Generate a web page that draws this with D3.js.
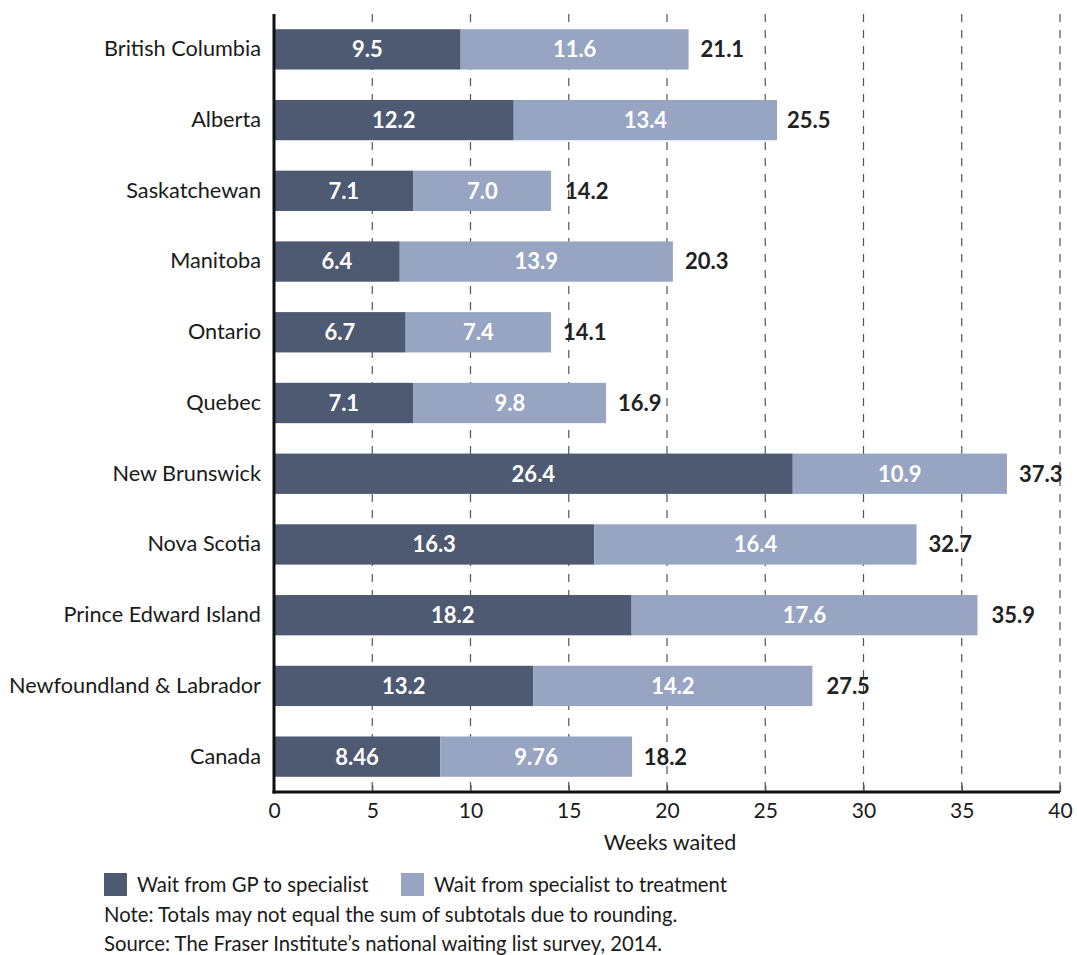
<!DOCTYPE html>
<html>
<head>
<meta charset="utf-8">
<script src="https://cdn.jsdelivr.net/npm/d3@7/dist/d3.min.js"></script>
<style>
  html, body { margin: 0; padding: 0; background: #fff; }
  svg { display: block; font-family: Lato, "Open Sans", sans-serif; }
</style>
</head>
<body>
<svg id="chart" width="1077" height="955"></svg>
<script>
// Wait times by province (weeks)
const provinces = ["British Columbia", "Alberta", "Saskatchewan", "Manitoba", "Ontario", "Quebec",
  "New Brunswick", "Nova Scotia", "Prince Edward Island", "Newfoundland & Labrador", "Canada"];
const gpToSpecialist = [9.5, 12.2, 7.1, 6.4, 6.7, 7.1, 26.4, 16.3, 18.2, 13.2, 8.46];
const specialistToTreatment = [11.6, 13.4, 7.0, 13.9, 7.4, 9.8, 10.9, 16.4, 17.6, 14.2, 9.76];
const totals = [21.1, 25.5, 14.2, 20.3, 14.1, 16.9, 37.3, 32.7, 35.9, 27.5, 18.2];
const xTicks = [0, 5, 10, 15, 20, 25, 30, 35, 40];
const seriesNames = ["Wait from GP to specialist", "Wait from specialist to treatment"];
const colors = ["#4e5a71", "#97a5c3"];

const svg = d3.select("#chart");
const plotLeft = 274, plotRight = 1060, plotTop = 14, plotBottom = 792;
const textColor = "#1a1a1a";

const x = d3.scaleLinear().domain([0, 40]).range([plotLeft, plotRight]);
const y = d3.scaleBand().domain(provinces).range([plotTop, plotBottom]).paddingInner(0.43).paddingOuter(0.215);

// dashed vertical gridlines
svg.append("g").selectAll("line").data(xTicks.slice(1)).join("line")
  .attr("x1", d => x(d)).attr("x2", d => x(d))
  .attr("y1", plotTop).attr("y2", plotBottom)
  .attr("stroke", "#555").attr("stroke-width", 1.2)
  .attr("stroke-dasharray", "8,8");

const rows = provinces.map((p, i) => ({
  name: p, a: gpToSpecialist[i], b: specialistToTreatment[i], total: totals[i]
}));

const g = svg.append("g");
// first segment
g.selectAll("rect.a").data(rows).join("rect").attr("class", "a")
  .attr("x", x(0)).attr("y", d => y(d.name))
  .attr("width", d => x(d.a) - x(0)).attr("height", y.bandwidth())
  .attr("fill", colors[0]);
// second segment
g.selectAll("rect.b").data(rows).join("rect").attr("class", "b")
  .attr("x", d => x(d.a)).attr("y", d => y(d.name))
  .attr("width", d => x(d.a + d.b) - x(d.a)).attr("height", y.bandwidth())
  .attr("fill", colors[1]);

const fmt = v => (Math.round(v * 100) % 10 !== 0) ? v.toFixed(2) : v.toFixed(1);
const boldSize = 22;

// segment labels
g.selectAll("text.a").data(rows).join("text").attr("class", "a")
  .attr("x", d => (x(0) + x(d.a)) / 2).attr("y", d => y(d.name) + y.bandwidth() / 2)
  .attr("dy", "0.36em").attr("text-anchor", "middle")
  .attr("fill", "#fff").attr("font-weight", 700).attr("font-size", boldSize)
  .text(d => fmt(d.a));
g.selectAll("text.b").data(rows).join("text").attr("class", "b")
  .attr("x", d => (x(d.a) + x(d.a + d.b)) / 2).attr("y", d => y(d.name) + y.bandwidth() / 2)
  .attr("dy", "0.36em").attr("text-anchor", "middle")
  .attr("fill", "#fff").attr("font-weight", 700).attr("font-size", boldSize)
  .text(d => fmt(d.b));
// totals
g.selectAll("text.t").data(rows).join("text").attr("class", "t")
  .attr("x", d => x(d.total) + 12).attr("y", d => y(d.name) + y.bandwidth() / 2)
  .attr("dy", "0.36em")
  .attr("fill", "#222").attr("font-weight", 700).attr("font-size", boldSize)
  .text(d => d.total.toFixed(1));

// category axis
const yAxis = svg.append("g").attr("transform", `translate(${plotLeft},0)`)
  .call(d3.axisLeft(y).tickSize(0).tickPadding(13));
yAxis.select(".domain").remove();
yAxis.selectAll("text").attr("font-size", 21.7).attr("fill", textColor)
  .attr("font-family", "Lato, 'Open Sans', sans-serif");

// value axis
const xAxis = svg.append("g").attr("transform", `translate(0,${plotBottom})`)
  .call(d3.axisBottom(x).tickValues(xTicks).tickSize(-7).tickPadding(11));
xAxis.select(".domain").remove();
xAxis.selectAll(".tick line").attr("stroke", "#555").attr("stroke-width", 1.2);
xAxis.selectAll("text").attr("font-size", 21).attr("fill", textColor)
  .attr("font-family", "Lato, 'Open Sans', sans-serif");

// axis lines
svg.append("line").attr("x1", plotLeft).attr("x2", plotLeft).attr("y1", plotTop).attr("y2", plotBottom + 1.5)
  .attr("stroke", "#111").attr("stroke-width", 3);
svg.append("line").attr("x1", plotLeft - 1.5).attr("x2", plotRight).attr("y1", plotBottom).attr("y2", plotBottom)
  .attr("stroke", "#111").attr("stroke-width", 3);

svg.append("text").attr("x", 670).attr("y", 850).attr("text-anchor", "middle")
  .attr("font-size", 21.5).attr("fill", textColor).text("Weeks waited");

// legend
const legendX = [104, 401];
seriesNames.forEach((n, i) => {
  svg.append("rect").attr("x", legendX[i]).attr("y", 873).attr("width", 23).attr("height", 23)
    .attr("fill", colors[i]);
  svg.append("text").attr("x", legendX[i] + 33).attr("y", 885).attr("dy", "0.36em")
    .attr("font-size", 20.3).attr("fill", textColor).text(n);
});
svg.append("text").attr("x", 104).attr("y", 922).attr("font-size", 20.3).attr("fill", textColor)
  .text("Note: Totals may not equal the sum of subtotals due to rounding.");
svg.append("text").attr("x", 104).attr("y", 951).attr("font-size", 20.3).attr("fill", textColor)
  .text("Source: The Fraser Institute’s national waiting list survey, 2014.");
</script>
</body>
</html>
